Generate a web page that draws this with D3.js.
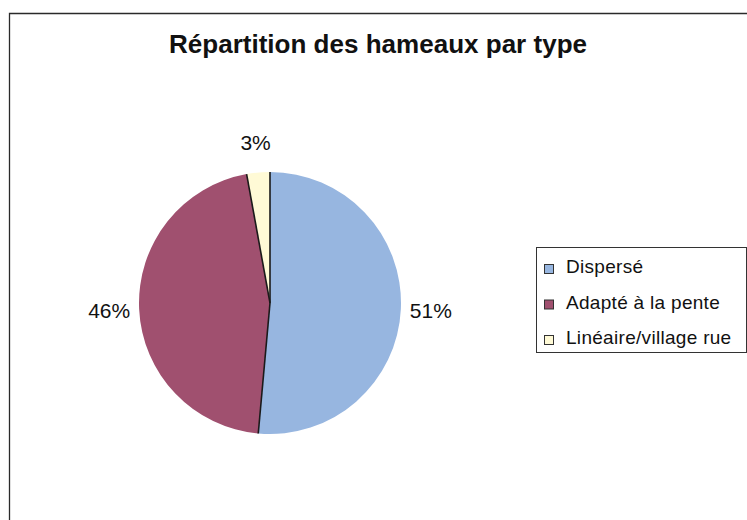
<!DOCTYPE html>
<html><head><meta charset="utf-8">
<script src="https://cdn.jsdelivr.net/npm/d3@7"></script>
<style>body{margin:0;background:#fff}svg{display:block}text{font-family:"Liberation Sans",Arial,sans-serif;fill:#111}</style>
</head><body>
<script>
const categories = ["Dispersé", "Adapté à la pente", "Linéaire/village rue"];
const values = [18, 16, 1];
const colors = ["#97B6E0", "#A0506F", "#FFFAD6"];
const title = "Répartition des hameaux par type";

const W = 747, H = 520;
const svg = d3.select("body").append("svg").attr("width", W).attr("height", H);

// outer frame
svg.append("path").attr("d", `M9.5,${H+2}V13.5H${W+2}`).attr("fill","none").attr("stroke","#2a2a2a").attr("stroke-width",1.3);

svg.append("text").attr("x", 378).attr("y", 53).attr("text-anchor","middle")
  .attr("font-size", 26).attr("font-weight","bold").attr("textLength", 418).attr("lengthAdjust","spacingAndGlyphs").text(title);

const cx = 270, cy = 303, r = 131;
const total = d3.sum(values);
const pie = d3.pie().sort(null).value(d => d)(values);
const arc = d3.arc().innerRadius(0).outerRadius(r);
const labelArc = d3.arc().innerRadius(161).outerRadius(161);
const g = svg.append("g").attr("transform", `translate(${cx},${cy})`);
g.selectAll("path.slice").data(pie).join("path").attr("class","slice")
  .attr("d", arc).attr("fill", (d,i) => colors[i]);
// radial divider lines
g.selectAll("line.div").data(pie).join("line").attr("class","div")
  .attr("x1",0).attr("y1",0)
  .attr("x2", d => r*Math.sin(d.startAngle)).attr("y2", d => -r*Math.cos(d.startAngle))
  .attr("stroke","#1a1a1a").attr("stroke-width",1.6);

const fmt = v => Math.round(v/total*100) + "%";
g.selectAll("text.lbl").data(pie).join("text").attr("class","lbl")
  .attr("transform", d => `translate(${labelArc.centroid(d)})`)
  .attr("text-anchor","middle").attr("dy","0.36em").attr("font-size",21)
  .text(d => fmt(d.value));

// legend
const lg = svg.append("g");
lg.append("rect").attr("x",536.5).attr("y",247.5).attr("width",210).attr("height",105)
  .attr("fill","#fff").attr("stroke","#333").attr("stroke-width",1);
const ly = d3.scalePoint().domain(categories).range([273, 344]);
categories.forEach((c,i) => {
  lg.append("rect").attr("x",544.5).attr("y",ly(c)-8.5).attr("width",9).attr("height",9)
    .attr("fill",colors[i]).attr("stroke","#333").attr("stroke-width",1);
  lg.append("text").attr("x",566).attr("y",ly(c)).attr("font-size",19).attr("letter-spacing","0.3px").text(c);
});
</script>
</body></html>
